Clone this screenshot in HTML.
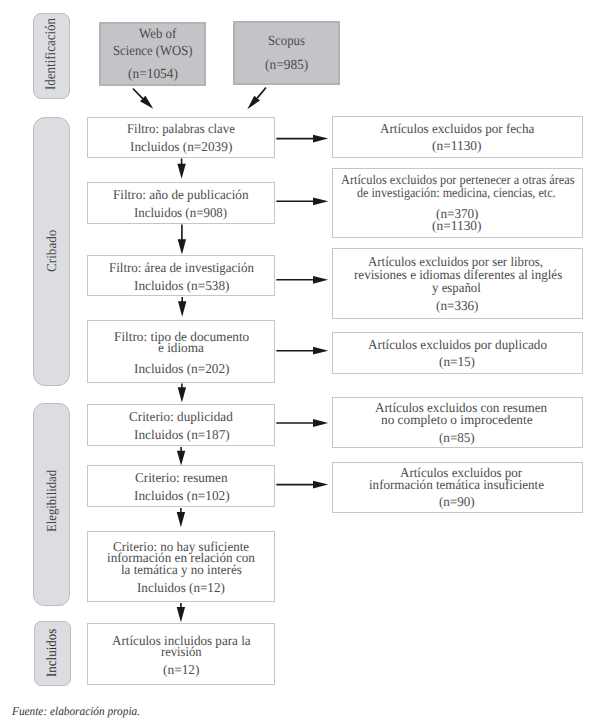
<!DOCTYPE html>
<html><head><meta charset="utf-8"><style>
html,body{margin:0;padding:0;background:#fff;}
body{width:600px;height:721px;position:relative;overflow:hidden;font-family:"Liberation Serif",serif;text-rendering:geometricPrecision;color:#4d4d4d;}
.t{position:absolute;height:0;line-height:0;white-space:nowrap;font-size:13px;}
.t span{display:inline-block;transform-origin:0 0;}
.b{position:absolute;box-sizing:border-box;border:1px solid #c6c6c6;background:#fff;}
.g{position:absolute;box-sizing:border-box;border:2px solid #b3b3b7;background:#c4c4c8;}
.s{position:absolute;box-sizing:border-box;border:1.5px solid #bdbdc1;background:#dcdde1;}
.v{position:absolute;height:0;line-height:0;white-space:nowrap;font-size:13.5px;color:#444;transform-origin:0 0;transform:rotate(-90deg);}
svg{position:absolute;left:0;top:0;}
</style></head><body>

<div class="s" style="left:33.0px;top:13.0px;width:37.0px;height:86.0px;border-radius:8px;"></div>
<div class="s" style="left:33.0px;top:117.0px;width:37.0px;height:268.5px;border-radius:12px;"></div>
<div class="s" style="left:33.0px;top:403.0px;width:37.0px;height:202.5px;border-radius:11px;"></div>
<div class="s" style="left:34.0px;top:620.5px;width:37.0px;height:65.5px;border-radius:7px;"></div>
<div class="g" style="left:99.0px;top:22.0px;width:107.0px;height:64.0px;"></div>
<div class="g" style="left:233.0px;top:21.0px;width:107.0px;height:64.0px;"></div>
<div class="b" style="left:87.0px;top:116.5px;width:188.0px;height:41.3px;"></div>
<div class="b" style="left:87.0px;top:181.7px;width:188.0px;height:42.1px;"></div>
<div class="b" style="left:87.0px;top:255.2px;width:188.0px;height:41.3px;"></div>
<div class="b" style="left:87.0px;top:320.3px;width:188.0px;height:62.9px;"></div>
<div class="b" style="left:87.0px;top:404.2px;width:188.0px;height:42.3px;"></div>
<div class="b" style="left:87.0px;top:465.4px;width:188.0px;height:41.6px;"></div>
<div class="b" style="left:87.0px;top:530.8px;width:188.0px;height:71.4px;"></div>
<div class="b" style="left:87.0px;top:623.3px;width:188.0px;height:62.2px;"></div>
<div class="b" style="left:332.0px;top:116.2px;width:250.5px;height:41.6px;"></div>
<div class="b" style="left:332.0px;top:167.8px;width:250.5px;height:70.7px;"></div>
<div class="b" style="left:332.0px;top:247.8px;width:250.5px;height:70.8px;"></div>
<div class="b" style="left:332.0px;top:332.0px;width:250.5px;height:41.6px;"></div>
<div class="b" style="left:332.0px;top:397.2px;width:250.5px;height:50.6px;"></div>
<div class="b" style="left:332.0px;top:461.5px;width:250.5px;height:51.0px;"></div>
<div class="t" style="left:139.20px;top:35.47px;font-size:14.0px"><span style="transform:scaleX(0.9236)">Web of</span></div>
<div class="t" style="left:112.50px;top:51.88px;font-size:14.0px"><span style="transform:scaleX(0.9091)">Science (WOS)</span></div>
<div class="t" style="left:127.50px;top:75.18px;font-size:14.0px"><span style="transform:scaleX(0.9573)">(n=1054)</span></div>
<div class="t" style="left:268.00px;top:42.17px;font-size:14.0px"><span style="transform:scaleX(0.9138)">Scopus</span></div>
<div class="t" style="left:265.00px;top:66.38px;font-size:14.0px"><span style="transform:scaleX(0.9573)">(n=985)</span></div>
<div class="t" style="left:127.20px;top:129.04px;font-size:13.5px"><span style="transform:scaleX(0.9463)">Filtro: palabras clave</span></div>
<div class="t" style="left:130.20px;top:146.54px;font-size:13.5px"><span style="transform:scaleX(0.9841)">Incluidos (n=2039)</span></div>
<div class="t" style="left:113.40px;top:195.14px;font-size:13.5px"><span style="transform:scaleX(0.9738)">Filtro: año de publicación</span></div>
<div class="t" style="left:133.60px;top:212.54px;font-size:13.5px"><span style="transform:scaleX(0.9578)">Incluidos (n=908)</span></div>
<div class="t" style="left:109.20px;top:268.04px;font-size:13.5px"><span style="transform:scaleX(0.9590)">Filtro: área de investigación</span></div>
<div class="t" style="left:133.80px;top:285.54px;font-size:13.5px"><span style="transform:scaleX(0.9825)">Incluidos (n=538)</span></div>
<div class="t" style="left:113.60px;top:336.84px;font-size:13.5px"><span style="transform:scaleX(0.9826)">Filtro: tipo de documento</span></div>
<div class="t" style="left:158.20px;top:347.64px;font-size:13.5px"><span style="transform:scaleX(0.9779)">e idioma</span></div>
<div class="t" style="left:133.80px;top:368.54px;font-size:13.5px"><span style="transform:scaleX(0.9825)">Incluidos (n=202)</span></div>
<div class="t" style="left:129.00px;top:417.44px;font-size:13.5px"><span style="transform:scaleX(0.9780)">Criterio: duplicidad</span></div>
<div class="t" style="left:133.60px;top:435.04px;font-size:13.5px"><span style="transform:scaleX(0.9846)">Incluidos (n=187)</span></div>
<div class="t" style="left:135.00px;top:478.04px;font-size:13.5px"><span style="transform:scaleX(0.9756)">Criterio: resumen</span></div>
<div class="t" style="left:133.75px;top:495.54px;font-size:13.5px"><span style="transform:scaleX(0.9830)">Incluidos (n=102)</span></div>
<div class="t" style="left:112.70px;top:547.04px;font-size:13.5px"><span style="transform:scaleX(0.9630)">Criterio: no hay suficiente</span></div>
<div class="t" style="left:107.30px;top:558.44px;font-size:13.5px"><span style="transform:scaleX(0.9742)">información en relación con</span></div>
<div class="t" style="left:120.50px;top:569.94px;font-size:13.5px"><span style="transform:scaleX(0.9646)">la temática y no interés</span></div>
<div class="t" style="left:137.00px;top:588.44px;font-size:13.5px"><span style="transform:scaleX(0.9707)">Incluidos (n=12)</span></div>
<div class="t" style="left:112.00px;top:641.14px;font-size:13.5px"><span style="transform:scaleX(0.9707)">Artículos incluidos para la</span></div>
<div class="t" style="left:160.80px;top:652.34px;font-size:13.5px"><span style="transform:scaleX(0.9308)">revisión</span></div>
<div class="t" style="left:162.70px;top:669.64px;font-size:13.5px"><span style="transform:scaleX(0.9901)">(n=12)</span></div>
<div class="t" style="left:380.20px;top:128.74px;font-size:13.5px"><span style="transform:scaleX(0.9680)">Artículos excluidos por fecha</span></div>
<div class="t" style="left:432.40px;top:145.74px;font-size:13.5px"><span style="transform:scaleX(0.9931)">(n=1130)</span></div>
<div class="t" style="left:340.50px;top:180.14px;font-size:13.5px"><span style="transform:scaleX(0.9107)">Artículos excluidos por pertenecer a otras áreas</span></div>
<div class="t" style="left:357.20px;top:193.24px;font-size:13.5px"><span style="transform:scaleX(0.8996)">de investigación: medicina, ciencias, etc.</span></div>
<div class="t" style="left:435.80px;top:213.64px;font-size:13.5px"><span style="transform:scaleX(0.9744)">(n=370)</span></div>
<div class="t" style="left:432.40px;top:225.64px;font-size:13.5px"><span style="transform:scaleX(0.9931)">(n=1130)</span></div>
<div class="t" style="left:368.30px;top:262.04px;font-size:13.5px"><span style="transform:scaleX(0.9542)">Artículos excluidos por ser libros,</span></div>
<div class="t" style="left:353.75px;top:275.09px;font-size:13.5px"><span style="transform:scaleX(0.9660)">revisiones e idiomas diferentes al inglés</span></div>
<div class="t" style="left:432.40px;top:288.04px;font-size:13.5px"><span style="transform:scaleX(0.9513)">y español</span></div>
<div class="t" style="left:435.80px;top:305.64px;font-size:13.5px"><span style="transform:scaleX(0.9744)">(n=336)</span></div>
<div class="t" style="left:367.60px;top:344.74px;font-size:13.5px"><span style="transform:scaleX(0.9766)">Artículos excluidos por duplicado</span></div>
<div class="t" style="left:439.00px;top:362.34px;font-size:13.5px"><span style="transform:scaleX(0.9765)">(n=15)</span></div>
<div class="t" style="left:374.60px;top:408.34px;font-size:13.5px"><span style="transform:scaleX(0.9703)">Artículos excluidos con resumen</span></div>
<div class="t" style="left:381.30px;top:419.94px;font-size:13.5px"><span style="transform:scaleX(0.9837)">no completo o improcedente</span></div>
<div class="t" style="left:439.00px;top:437.64px;font-size:13.5px"><span style="transform:scaleX(0.9684)">(n=85)</span></div>
<div class="t" style="left:399.60px;top:472.64px;font-size:13.5px"><span style="transform:scaleX(0.9638)">Artículos excluidos por</span></div>
<div class="t" style="left:369.20px;top:484.74px;font-size:13.5px"><span style="transform:scaleX(0.9646)">información temática insuficiente</span></div>
<div class="t" style="left:439.00px;top:502.04px;font-size:13.5px"><span style="transform:scaleX(0.9657)">(n=90)</span></div>
<div class="v" style="left:51.41px;top:90.00px;font-size:14.5px;color:#444"><span style="display:inline-block;transform-origin:0 0;transform:scaleX(0.8941)">Identificación</span></div>
<div class="v" style="left:52.31px;top:272.20px;font-size:13.6px;color:#4a4a4a"><span style="display:inline-block;transform-origin:0 0;transform:scaleX(0.9673)">Cribado</span></div>
<div class="v" style="left:52.11px;top:531.80px;font-size:13.6px;color:#444"><span style="display:inline-block;transform-origin:0 0;transform:scaleX(0.9333)">Elegibilidad</span></div>
<div class="v" style="left:53.48px;top:676.75px;font-size:14.0px;color:#2e2e2e"><span style="display:inline-block;transform-origin:0 0;transform:scaleX(0.9267)">Incluidos</span></div>
<svg width="600" height="721" viewBox="0 0 600 721">
<line x1="181.6" y1="158.5" x2="181.6" y2="164.7" stroke="#1c1718" stroke-width="1.6"/>
<polygon points="177.4,163.7 185.79999999999998,163.7 181.6,178.8" fill="#1c1718"/>
<line x1="181.9" y1="224.5" x2="181.9" y2="240.2" stroke="#1c1718" stroke-width="1.6"/>
<polygon points="177.70000000000002,239.2 186.1,239.2 181.9,254.4" fill="#1c1718"/>
<line x1="182.2" y1="297" x2="182.2" y2="302.2" stroke="#1c1718" stroke-width="1.6"/>
<polygon points="178.0,301.2 186.39999999999998,301.2 182.2,316.8" fill="#1c1718"/>
<line x1="181.9" y1="383.5" x2="181.9" y2="388.3" stroke="#1c1718" stroke-width="1.6"/>
<polygon points="177.70000000000002,387.3 186.1,387.3 181.9,402.6" fill="#1c1718"/>
<line x1="181.1" y1="447" x2="181.1" y2="451.8" stroke="#1c1718" stroke-width="1.6"/>
<polygon points="176.9,450.8 185.29999999999998,450.8 181.1,465.4" fill="#1c1718"/>
<line x1="180.9" y1="508" x2="180.9" y2="513" stroke="#1c1718" stroke-width="1.6"/>
<polygon points="176.70000000000002,512 185.1,512 180.9,527.2" fill="#1c1718"/>
<line x1="180.9" y1="603" x2="180.9" y2="608" stroke="#1c1718" stroke-width="1.6"/>
<polygon points="176.70000000000002,607 185.1,607 180.9,622.2" fill="#1c1718"/>
<line x1="276.3" y1="138.6" x2="314" y2="138.6" stroke="#1c1718" stroke-width="1.6"/>
<polygon points="313,134.7 313,142.5 328.2,138.6" fill="#1c1718"/>
<line x1="276.3" y1="201.3" x2="314" y2="201.3" stroke="#1c1718" stroke-width="1.6"/>
<polygon points="313,197.4 313,205.20000000000002 328.2,201.3" fill="#1c1718"/>
<line x1="276.3" y1="279.8" x2="314" y2="279.8" stroke="#1c1718" stroke-width="1.6"/>
<polygon points="313,275.90000000000003 313,283.7 328.2,279.8" fill="#1c1718"/>
<line x1="276.3" y1="350.7" x2="314" y2="350.7" stroke="#1c1718" stroke-width="1.6"/>
<polygon points="313,346.8 313,354.59999999999997 328.2,350.7" fill="#1c1718"/>
<line x1="276.3" y1="423" x2="314" y2="423" stroke="#1c1718" stroke-width="1.6"/>
<polygon points="313,419.1 313,426.9 328.2,423" fill="#1c1718"/>
<line x1="276.3" y1="484.6" x2="314" y2="484.6" stroke="#1c1718" stroke-width="1.6"/>
<polygon points="313,480.70000000000005 313,488.5 328.2,484.6" fill="#1c1718"/>
<line x1="132.9" y1="88.5" x2="142.7" y2="98.55" stroke="#1c1718" stroke-width="1.7"/>
<polygon points="140,101.3 145.4,95.8 153.3,108.8" fill="#1c1718"/>
<line x1="266" y1="87.5" x2="257.15" y2="98.1" stroke="#1c1718" stroke-width="1.7"/>
<polygon points="254.3,95.8 260,100.4 247.3,109.3" fill="#1c1718"/>
</svg>
<div class="t" style="left:12px;top:710.55px;font-size:12px;font-style:italic;color:#333;"><span style="transform:scaleX(0.9421)">Fuente: elaboración propia.</span></div>
</body></html>
